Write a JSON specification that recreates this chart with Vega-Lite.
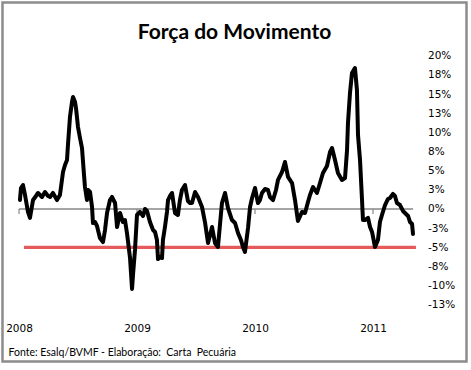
{
  "$schema": "https://vega.github.io/schema/vega-lite/v6.json",
  "autosize": "none",
  "width": 464,
  "height": 359,
  "padding": {"left": 2.5, "top": 2.5, "right": 4.5, "bottom": 8.5},
  "background": "white",
  "title": {"text": "Força do Movimento", "font": "Lato", "fontSize": 21, "fontWeight": "bold", "color": "black", "anchor": "middle", "baseline": "alphabetic", "offset": -57},
  "config": {"view": {"stroke": "#8c8c8c", "strokeWidth": 2.5, "fill": "white"}},
  "datasets": {
    "series": [
      {"t": 2008.008, "v": 1.17}, {"t": 2008.017, "v": 2.74}, {"t": 2008.034, "v": 3.13}, {"t": 2008.051, "v": 1.83},
      {"t": 2008.076, "v": -0.39}, {"t": 2008.093, "v": -1.17}, {"t": 2008.119, "v": 1.17}, {"t": 2008.144, "v": 1.70},
      {"t": 2008.161, "v": 2.09}, {"t": 2008.195, "v": 1.57}, {"t": 2008.220, "v": 2.22}, {"t": 2008.246, "v": 1.70},
      {"t": 2008.263, "v": 1.57}, {"t": 2008.288, "v": 2.09}, {"t": 2008.322, "v": 1.17}, {"t": 2008.347, "v": 1.83},
      {"t": 2008.373, "v": 4.83}, {"t": 2008.390, "v": 5.74}, {"t": 2008.407, "v": 6.40}, {"t": 2008.415, "v": 8.36},
      {"t": 2008.432, "v": 12.01}, {"t": 2008.449, "v": 13.97}, {"t": 2008.458, "v": 14.62}, {"t": 2008.475, "v": 13.97},
      {"t": 2008.483, "v": 13.19}, {"t": 2008.500, "v": 10.70}, {"t": 2008.517, "v": 9.27}, {"t": 2008.534, "v": 7.96},
      {"t": 2008.551, "v": 4.44}, {"t": 2008.559, "v": 2.87}, {"t": 2008.576, "v": 1.17}, {"t": 2008.585, "v": 2.48},
      {"t": 2008.602, "v": 2.22}, {"t": 2008.619, "v": 0.26}, {"t": 2008.627, "v": -1.83}, {"t": 2008.644, "v": -1.70},
      {"t": 2008.661, "v": -2.22}, {"t": 2008.686, "v": -3.79}, {"t": 2008.712, "v": -4.31}, {"t": 2008.729, "v": -2.74},
      {"t": 2008.746, "v": -0.52}, {"t": 2008.771, "v": 1.17}, {"t": 2008.788, "v": 1.57}, {"t": 2008.814, "v": 0.78},
      {"t": 2008.831, "v": -2.35}, {"t": 2008.856, "v": -0.52}, {"t": 2008.881, "v": -1.70}, {"t": 2008.898, "v": -1.44},
      {"t": 2008.915, "v": -3.13}, {"t": 2008.941, "v": -6.40}, {"t": 2008.958, "v": -10.44}, {"t": 2008.966, "v": -8.62},
      {"t": 2008.983, "v": -5.35}, {"t": 2009.000, "v": -0.78}, {"t": 2009.025, "v": -0.39}, {"t": 2009.051, "v": -0.91},
      {"t": 2009.068, "v": 0.00}, {"t": 2009.085, "v": -0.26}, {"t": 2009.110, "v": -1.70}, {"t": 2009.136, "v": -2.74},
      {"t": 2009.153, "v": -3.00}, {"t": 2009.169, "v": -4.05}, {"t": 2009.178, "v": -6.53}, {"t": 2009.195, "v": -6.27},
      {"t": 2009.212, "v": -6.40}, {"t": 2009.220, "v": -4.05}, {"t": 2009.237, "v": -2.35}, {"t": 2009.254, "v": -0.39},
      {"t": 2009.263, "v": 1.17}, {"t": 2009.280, "v": 1.70}, {"t": 2009.297, "v": 2.09}, {"t": 2009.322, "v": -0.52},
      {"t": 2009.347, "v": -0.78}, {"t": 2009.364, "v": 1.17}, {"t": 2009.381, "v": 2.48}, {"t": 2009.407, "v": 3.13},
      {"t": 2009.432, "v": 1.04}, {"t": 2009.449, "v": 0.78}, {"t": 2009.466, "v": 0.78}, {"t": 2009.492, "v": 2.22},
      {"t": 2009.517, "v": 1.57}, {"t": 2009.551, "v": 0.26}, {"t": 2009.576, "v": -1.70}, {"t": 2009.602, "v": -4.44},
      {"t": 2009.619, "v": -3.39}, {"t": 2009.636, "v": -2.35}, {"t": 2009.661, "v": -4.44}, {"t": 2009.686, "v": -4.96},
      {"t": 2009.703, "v": -2.09}, {"t": 2009.720, "v": 0.78}, {"t": 2009.746, "v": 2.09}, {"t": 2009.771, "v": 0.13},
      {"t": 2009.805, "v": -1.44}, {"t": 2009.831, "v": -1.83}, {"t": 2009.856, "v": -3.13}, {"t": 2009.881, "v": -4.05},
      {"t": 2009.898, "v": -4.96}, {"t": 2009.915, "v": -5.61}, {"t": 2009.941, "v": -2.48}, {"t": 2009.958, "v": 0.26},
      {"t": 2009.975, "v": 1.44}, {"t": 2010.000, "v": 2.74}, {"t": 2010.025, "v": 0.78}, {"t": 2010.042, "v": 1.17},
      {"t": 2010.059, "v": 2.09}, {"t": 2010.085, "v": 2.61}, {"t": 2010.110, "v": 2.48}, {"t": 2010.127, "v": 1.57},
      {"t": 2010.153, "v": 1.17}, {"t": 2010.178, "v": 2.48}, {"t": 2010.195, "v": 3.79}, {"t": 2010.229, "v": 4.83},
      {"t": 2010.254, "v": 6.14}, {"t": 2010.280, "v": 4.18}, {"t": 2010.314, "v": 3.39}, {"t": 2010.339, "v": 1.17},
      {"t": 2010.364, "v": -1.57}, {"t": 2010.398, "v": -0.39}, {"t": 2010.424, "v": -0.52}, {"t": 2010.449, "v": 0.91},
      {"t": 2010.466, "v": 1.83}, {"t": 2010.492, "v": 2.87}, {"t": 2010.508, "v": 2.48}, {"t": 2010.525, "v": 2.09},
      {"t": 2010.551, "v": 3.39}, {"t": 2010.576, "v": 4.70}, {"t": 2010.610, "v": 5.61}, {"t": 2010.636, "v": 7.44},
      {"t": 2010.653, "v": 7.96}, {"t": 2010.678, "v": 6.40}, {"t": 2010.703, "v": 4.70}, {"t": 2010.737, "v": 3.79},
      {"t": 2010.763, "v": 4.05}, {"t": 2010.780, "v": 7.70}, {"t": 2010.788, "v": 11.23}, {"t": 2010.805, "v": 15.14},
      {"t": 2010.822, "v": 17.75}, {"t": 2010.847, "v": 18.41}, {"t": 2010.864, "v": 15.54}, {"t": 2010.873, "v": 9.66},
      {"t": 2010.890, "v": 6.40}, {"t": 2010.907, "v": 1.17}, {"t": 2010.915, "v": -1.44}, {"t": 2010.932, "v": -1.44},
      {"t": 2010.958, "v": -1.17}, {"t": 2010.975, "v": -2.35}, {"t": 2010.992, "v": -3.00}, {"t": 2011.017, "v": -4.96},
      {"t": 2011.042, "v": -4.05}, {"t": 2011.059, "v": -1.70}, {"t": 2011.076, "v": -0.78}, {"t": 2011.102, "v": 0.52},
      {"t": 2011.127, "v": 1.31}, {"t": 2011.144, "v": 1.44}, {"t": 2011.169, "v": 1.96}, {"t": 2011.186, "v": 1.70},
      {"t": 2011.203, "v": 0.78}, {"t": 2011.229, "v": 0.52}, {"t": 2011.254, "v": -0.26}, {"t": 2011.271, "v": -0.52},
      {"t": 2011.297, "v": -0.91}, {"t": 2011.314, "v": -1.70}, {"t": 2011.331, "v": -1.96}, {"t": 2011.339, "v": -3.26}
    ],
    "guides": [
      {"name": "zero", "t": 2008.0, "t2": 2011.34, "v": 0},
      {"name": "limit", "t": 2008.042, "t2": 2011.364, "v": -5}
    ],
    "years": [{"t": 2008, "v": 0}, {"t": 2009, "v": 0}, {"t": 2010, "v": 0}, {"t": 2011, "v": 0}]
  },
  "encoding": {
    "x": {"field": "t", "type": "quantitative", "scale": {"domain": [2007.8602, 2011.7924], "nice": false, "zero": false},
      "axis": {"values": [2008, 2009, 2010, 2011], "format": "d", "orient": "bottom", "offset": -30.5, "domain": false, "ticks": false, "grid": false, "labelPadding": 0, "labelBaseline": "alphabetic", "labelAlign": "center", "labelFlush": false, "labelOverlap": false, "labelFont": "DejaVu Sans", "labelFontSize": 10.5, "labelColor": "black", "title": "Fonte: Esalq/BVMF - Elaboração:\u00a0 Carta\u00a0 Pecuária", "titleFont": "Lato", "titleFontSize": 10.5, "titleFontWeight": "normal", "titleColor": "black", "titleAnchor": "start", "titleAlign": "left", "titleBaseline": "alphabetic", "titleX": 5.5, "titleY": 24}},
    "y": {"field": "v", "type": "quantitative", "scale": {"domain": [-19.909, 26.958], "nice": false, "zero": false},
      "axis": {"values": [-12.5, -10, -7.5, -5, -2.5, 0, 2.5, 5, 7.5, 10, 12.5, 15, 17.5, 20], "orient": "right", "offset": -39, "domain": false, "ticks": false, "grid": false, "labelPadding": 0, "labelAlign": "left", "labelBaseline": "middle", "labelExpr": "(datum.value < 0 ? '-' : '') + round(abs(datum.value)) + '%'", "labelFont": "DejaVu Sans", "labelFontSize": 10.5, "labelColor": "black", "labelOverlap": false, "labelFlush": false, "labelBound": false, "title": null}}
  },
  "layer": [
    {
      "data": {"name": "guides"},
      "transform": [{"filter": "datum.name === 'zero'"}],
      "mark": {"type": "rule", "color": "#878787", "strokeWidth": 1.5},
      "encoding": {"x2": {"field": "t2"}}
    },
    {
      "data": {"name": "guides"},
      "transform": [{"filter": "datum.name === 'limit'"}],
      "mark": {"type": "rule", "color": "#e55a5a", "strokeWidth": 3.3},
      "encoding": {"x2": {"field": "t2"}}
    },
    {
      "data": {"name": "years"},
      "mark": {"type": "rule", "color": "#878787", "strokeWidth": 1.2},
      "encoding": {"y2": {"datum": -0.65}}
    },
    {
      "data": {"name": "series"},
      "mark": {"type": "line", "color": "black", "strokeWidth": 4, "strokeJoin": "round", "strokeCap": "round"},
      "encoding": {}
    }
  ]
}
